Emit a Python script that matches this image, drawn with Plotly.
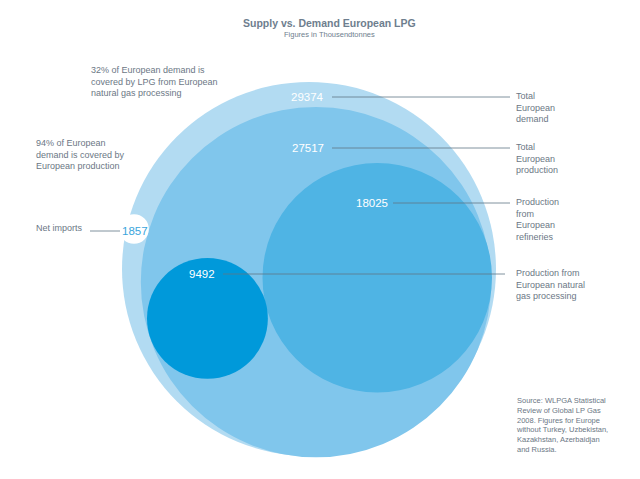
import plotly.graph_objects as go

# ---- data ----
categories = ["Total European demand", "Total European production",
              "Production from European refineries",
              "Production from European natural gas processing", "Net imports"]
values = [29374, 27517, 18025, 9492, 1857]
side_labels = ["Total<br>European<br>demand", "Total<br>European<br>production",
               "Production<br>from<br>European<br>refineries",
               "Production from<br>European natural<br>gas processing", "Net imports"]

title = "Supply vs. Demand European LPG"
subtitle = "Figures in Thousendtonnes"
note_32 = "32% of European demand is<br>covered by LPG from European<br>natural gas processing"
note_94 = "94% of European<br>demand is covered by<br>European production"
source = ("Source: WLPGA Statistical<br>Review of Global LP Gas<br>2008. Figures for Europe<br>"
          "without Turkey, Uzbekistan,<br>Kazakhstan, Azerbaidjan<br>and Russia.")

# ---- layout / style (pixel space of the page) ----
W, H = 640, 479
OFF = 8                              # page body margin
scale = 374.0 / values[0]            # px of diameter per thousand tonnes
fills = ["#b2dbf2", "#80c6ec", "#4fb4e4", "#0099da", "#ffffff"]

def r_of(v):
    return v * scale / 2.0

r = [r_of(v) for v in values]
centres = [
    (309, 82 + r[0]),
    (316, 107 + r[1]),
    (492 - r[2], 163 + r[2]),
    (147 + r[3], 258 + r[3]),
    (134, 229),
]
num_pos = [(307, 97), (308, 148), (372, 203), (202, 274), (135, 231)]
line_seg = [(332, 510, 97), (332, 510, 148), (393, 510, 203), (223, 505, 274), (90, 120, 231)]
side_pos = [(515, 96), (515, 147), (515, 202), (515, 273), (35, 228)]

fig = go.Figure()
fig.add_trace(go.Scatter(x=[OFF, W], y=[OFF, H], mode="markers",
                         marker=dict(opacity=0), hoverinfo="skip", showlegend=False))

shapes = []
for i, v in enumerate(values):
    cx, cy = centres[i]
    rr = r[i]
    shapes.append(dict(type="circle", xref="x", yref="y",
                       x0=cx - rr, x1=cx + rr, y0=cy - rr, y1=cy + rr,
                       fillcolor=fills[i],
                       line=dict(color="#ffffff", width=6 if i == 4 else 0),
                       layer="below"))
line_col = "#5f7687"
for (x0, x1, y) in line_seg:
    shapes.append(dict(type="line", xref="x", yref="y", x0=x0, x1=x1, y0=y, y1=y,
                       line=dict(color=line_col, width=0.8), layer="above"))

fnt = "Liberation Sans, Arial, Helvetica, sans-serif"
txt_col = "#6b7785"
ann = []
for i, v in enumerate(values):
    x, y = num_pos[i]
    ann.append(dict(x=x, y=y, xref="x", yref="y", text=str(v), showarrow=False,
                    font=dict(family=fnt, size=11.5,
                              color="#3aa5dc" if i == 4 else "#ffffff"),
                    xanchor="center", yanchor="middle"))
for i, lab in enumerate(side_labels):
    x, y = side_pos[i]
    ann.append(dict(x=x, y=y - 6, xref="x", yref="y", text=lab, showarrow=False,
                    font=dict(family=fnt, size=9, color=txt_col),
                    xanchor="left", yanchor="top", align="left", borderpad=0))
ann.append(dict(x=90, y=64, xref="x", yref="y", text=note_32, showarrow=False,
                font=dict(family=fnt, size=9, color=txt_col),
                xanchor="left", yanchor="top", align="left", borderpad=0))
ann.append(dict(x=35, y=137, xref="x", yref="y", text=note_94, showarrow=False,
                font=dict(family=fnt, size=9, color=txt_col),
                xanchor="left", yanchor="top", align="left", borderpad=0))
ann.append(dict(x=515, y=395, xref="x", yref="y", text=source, showarrow=False,
                font=dict(family=fnt, size=7.5, color=txt_col),
                xanchor="left", yanchor="top", align="left", borderpad=0))
ann.append(dict(x=329, y=23, xref="x", yref="y", text="<b>" + title + "</b>", showarrow=False,
                font=dict(family=fnt, size=10.5, color="#6e7e8e"),
                xanchor="center", yanchor="middle"))
ann.append(dict(x=329, y=34, xref="x", yref="y", text=subtitle, showarrow=False,
                font=dict(family=fnt, size=7.5, color="#6e7e8e"),
                xanchor="center", yanchor="middle"))

fig.update_layout(
    width=W, height=H, margin=dict(l=0, r=0, t=0, b=0),
    paper_bgcolor="#ffffff", plot_bgcolor="#ffffff",
    xaxis=dict(range=[OFF, W + OFF], visible=False, fixedrange=True),
    yaxis=dict(range=[H + OFF, OFF], visible=False, fixedrange=True),
    shapes=shapes, annotations=ann, showlegend=False,
)
fig.write_html("out.html")
